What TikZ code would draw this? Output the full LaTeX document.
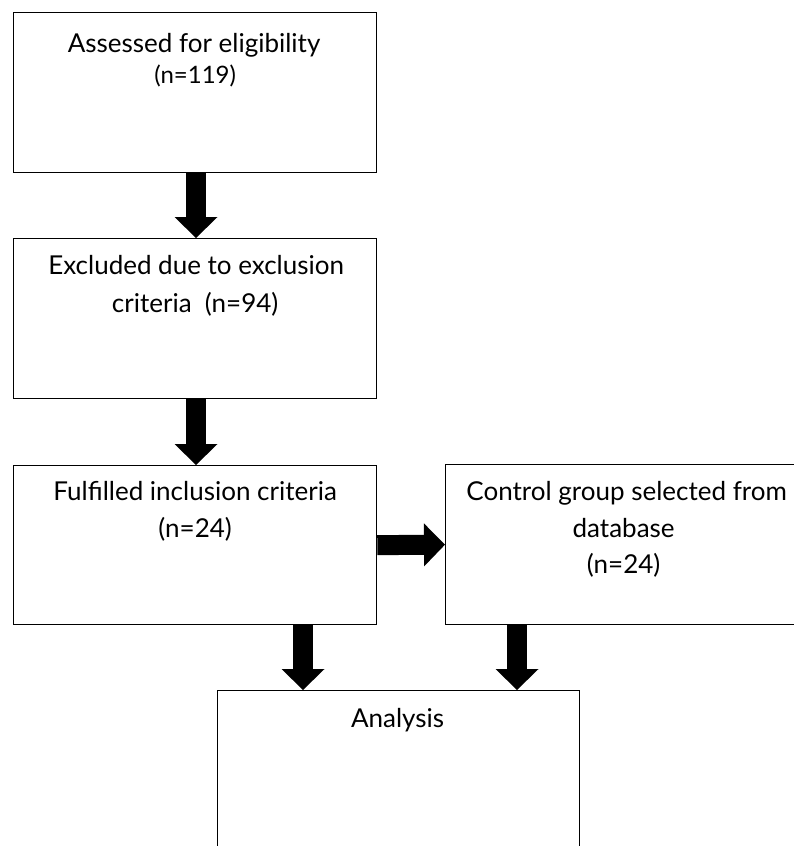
\documentclass[tikz,border=0pt]{standalone}
\usepackage{fontspec}
\setmainfont{Lato}
\usetikzlibrary{arrows.meta,calc}
\begin{document}
\begin{tikzpicture}[x=1pt,y=-1pt,
  box/.style={draw=black,line width=1.3pt,rectangle,anchor=north west,inner sep=0pt},
  txt/.style={anchor=base,font=\fontsize{26}{31}\selectfont,inner sep=0pt},
  smalltxt/.style={anchor=base,font=\fontsize{24}{29}\selectfont,inner sep=0pt},
  blk/.style={line width=20pt,-{Triangle[length=21pt,width=43pt,line width=0pt]}}]
\path[use as bounding box] (0,0) rectangle (794,846);
\clip (0,0) rectangle (794,846);
\node[box,minimum width=363pt,minimum height=160pt] (b1) at (13,12) {};
\node[box,minimum width=363pt,minimum height=160pt] (b2) at (13,238) {};
\node[box,minimum width=363pt,minimum height=159pt] (b3) at (13,465) {};
\node[box,minimum width=360pt,minimum height=160pt] (b4) at (445,464) {};
\node[box,minimum width=362pt,minimum height=160pt] (b5) at (217,690) {};
% texts
\node[txt] (t1a) at ($(b1.north)+(-1,40)$) {Assessed for eligibility};
\node[smalltxt] (t1b) at ($(b1.north)+(0,83-12)$) {(n=119)};
\node[txt] (t2a) at ($(b2.north)+(1,36)$) {Excluded due to exclusion};
\node[txt] (t2b) at ($(b2.north)+(0,74)$) {criteria\ \ (n=94)};
\node[txt] (t3a) at ($(b3.north)+(0,35)$) {Fulfilled inclusion criteria};
\node[txt] (t3b) at ($(b3.north)+(0,72)$) {(n=24)};
\node[txt] (t4a) at ($(b4.north)+(1,36)$) {Control group selected from};
\node[txt] (t4b) at ($(b4.north)+(-2,73)$) {database};
\node[txt] (t4c) at ($(b4.north)+(-2,109)$) {(n=24)};
\node[txt] (t5) at ($(b5.north)+(-1,37)$) {Analysis};
% connectors
\coordinate (xa) at (196,0);
\coordinate (xl) at (303,0);
\coordinate (xr) at (517,0);
\draw[blk] (b1.south -| xa) -- (b2.north -| xa);
\draw[blk] (b2.south -| xa) -- (b3.north -| xa);
\draw[blk] (b3.east) -- (b4.west);
\draw[blk] (b3.south -| xl) -- (b5.north -| xl);
\draw[blk] (b4.south -| xr) -- (b5.north -| xr);
\end{tikzpicture}
\end{document}
